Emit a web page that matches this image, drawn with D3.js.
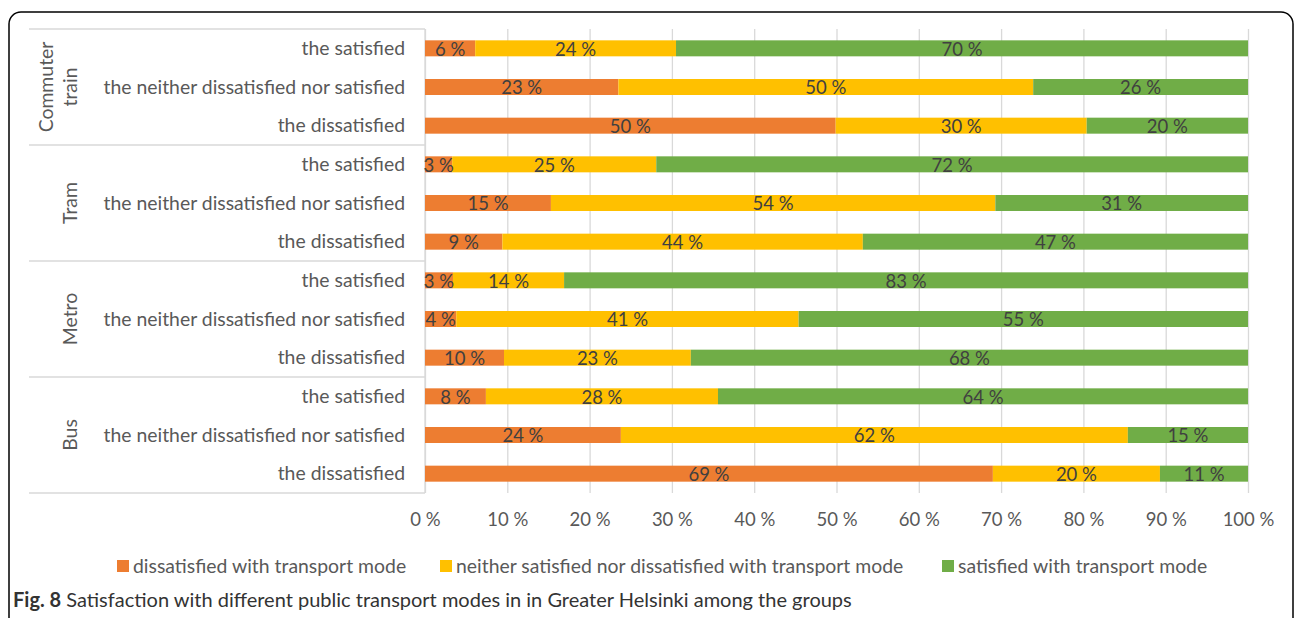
<!DOCTYPE html>
<html>
<head>
<meta charset="utf-8">
<script src="https://cdn.jsdelivr.net/npm/d3@7"></script>
<style>
  body { margin: 0; background: #fff; }
  text { font-family: Lato, "Open Sans", sans-serif; }
</style>
</head>
<body>
<svg id="chart" width="1295" height="618"></svg>
<script>
// groups top to bottom, each with three respondent rows
const groups = ["Commuter train", "Tram", "Metro", "Bus"];
const rowNames = ["the satisfied", "the neither dissatisfied nor satisfied", "the dissatisfied"];
const series = ["dissatisfied with transport mode", "neither satisfied nor dissatisfied with transport mode", "satisfied with transport mode"];

// shares (%), in row order: group x rowNames
const dissatisfied = [6.1, 23.5, 49.9, 3.3, 15.3, 9.4, 3.4, 3.8, 9.6, 7.4, 23.8, 69.0];
const neutral      = [24.4, 50.4, 30.5, 24.8, 54.0, 43.8, 13.5, 41.6, 22.7, 28.2, 61.6, 20.3];
const satisfied    = [69.5, 26.1, 19.6, 71.9, 30.7, 46.8, 83.1, 54.6, 67.7, 64.4, 14.6, 10.7];

// printed data labels
const dissatisfiedLabels = [6, 23, 50, 3, 15, 9, 3, 4, 10, 8, 24, 69];
const neutralLabels      = [24, 50, 30, 25, 54, 44, 14, 41, 23, 28, 62, 20];
const satisfiedLabels    = [70, 26, 20, 72, 31, 47, 83, 55, 68, 64, 15, 11];

const ticks = [0, 10, 20, 30, 40, 50, 60, 70, 80, 90, 100];

const colors = ["#ED7D31", "#FFC000", "#70AD47"];

const svg = d3.select("#chart");

// frame
svg.append("rect")
    .attr("x", 9).attr("y", 12)
    .attr("width", 1284).attr("height", 640)
    .attr("rx", 12)
    .attr("fill", "none")
    .attr("stroke", "#000")
    .attr("stroke-width", 1.5);

const plotLeft = 425, plotRight = 1248, plotTop = 29, plotBottom = 493;

const x = d3.scaleLinear().domain([0, 100]).range([plotLeft, plotRight]);

const rows = [];
groups.forEach((g, gi) => rowNames.forEach((r, ri) => rows.push({ group: g, name: r, i: gi * 3 + ri })));

const y = d3.scaleBand().domain(rows.map(d => d.i)).range([plotTop, plotBottom]);
const barH = 16;

// gridlines
svg.append("g")
    .attr("transform", `translate(0,${plotBottom})`)
    .call(d3.axisBottom(x).tickValues(ticks).tickSize(-(plotBottom - plotTop)).tickFormat(""))
    .call(g => g.select(".domain").remove())
    .call(g => g.selectAll("line").attr("stroke", "#d9d9d9").attr("stroke-width", 1.3));

// tick labels
svg.append("g")
    .attr("transform", `translate(0,${plotBottom})`)
    .call(d3.axisBottom(x).tickValues(ticks).tickSize(0).tickPadding(20).tickFormat(d => d + " %"))
    .call(g => g.select(".domain").remove())
    .call(g => g.selectAll("text")
        .attr("fill", "#595959")
        .style("font-size", "18.5px")
        .style("font-family", "Lato, sans-serif"));

// category axis: vertical line and group separators
svg.append("line")
    .attr("x1", plotLeft).attr("x2", plotLeft)
    .attr("y1", plotTop).attr("y2", plotBottom)
    .attr("stroke", "#d9d9d9").attr("stroke-width", 1.3);

const groupEdges = d3.range(groups.length + 1).map(k => k === groups.length ? plotBottom : y(k * 3));
svg.selectAll(".sep")
    .data(groupEdges)
    .enter()
    .append("line")
    .attr("class", "sep")
    .attr("x1", 29).attr("x2", plotLeft)
    .attr("y1", d => d).attr("y2", d => d)
    .attr("stroke", "#d9d9d9").attr("stroke-width", 1.3);

// stacked bars
const table = rows.map(r => ({
    i: r.i,
    values: [dissatisfied[r.i], neutral[r.i], satisfied[r.i]],
    labels: [dissatisfiedLabels[r.i], neutralLabels[r.i], satisfiedLabels[r.i]]
}));

const segs = [];
table.forEach(d => {
    let acc = 0;
    d.values.forEach((v, k) => {
        segs.push({ i: d.i, k: k, x0: acc, x1: Math.min(100, acc + v), label: d.labels[k] });
        acc += v;
    });
});

const bars = svg.append("g");
bars.selectAll("rect")
    .data(segs)
    .enter()
    .append("rect")
    .attr("x", d => x(d.x0))
    .attr("width", d => x(d.x1) - x(d.x0))
    .attr("y", d => y(d.i) + y.bandwidth() / 2 - barH / 2)
    .attr("height", barH)
    .attr("fill", d => colors[d.k]);

bars.selectAll("text")
    .data(segs)
    .enter()
    .append("text")
    .attr("x", d => x((d.x0 + d.x1) / 2))
    .attr("y", d => y(d.i) + y.bandwidth() / 2)
    .attr("dy", "0.4em")
    .attr("text-anchor", "middle")
    .attr("fill", "#404040")
    .style("font-size", "18.5px")
    .text(d => d.label + " %");

// row labels
svg.selectAll(".rowlab")
    .data(rows)
    .enter()
    .append("text")
    .attr("class", "rowlab")
    .attr("x", 405)
    .attr("y", d => y(d.i) + y.bandwidth() / 2)
    .attr("dy", "0.35em")
    .attr("text-anchor", "end")
    .attr("fill", "#595959")
    .style("font-size", "19.4px")
    .text(d => d.name);

// group labels, rotated
groups.forEach((g, gi) => {
    const cy = (groupEdges[gi] + groupEdges[gi + 1]) / 2;
    const lines = g === "Commuter train" ? ["Commuter", "train"] : [g];
    const t = svg.append("text")
        .attr("transform", `translate(${lines.length > 1 ? 46 : 70},${cy}) rotate(-90)`)
        .attr("text-anchor", "middle")
        .attr("fill", "#595959")
        .style("font-size", "19.4px");
    lines.forEach((l, li) => {
        t.append("tspan")
            .attr("x", 0)
            .attr("dy", li === 0 ? "0.35em" : "1.25em")
            .text(l);
    });
});

// legend
const legendX = [117, 440, 942];
const legend = svg.selectAll(".legend")
    .data(series)
    .enter()
    .append("g")
    .attr("class", "legend")
    .attr("transform", (d, i) => `translate(${legendX[i]},566)`);

legend.append("rect")
    .attr("y", -6)
    .attr("width", 12)
    .attr("height", 12)
    .attr("fill", (d, i) => colors[i]);

legend.append("text")
    .attr("x", 16)
    .attr("dy", "0.35em")
    .attr("fill", "#595959")
    .style("font-size", "19.4px")
    .text(d => d);

// caption
const cap = svg.append("text")
    .attr("x", 13)
    .attr("y", 607)
    .attr("fill", "#333")
    .style("font-size", "20px");
cap.append("tspan").style("font-weight", "bold").text("Fig. 8");
cap.append("tspan").text(" Satisfaction with different public transport modes in in Greater Helsinki among the groups");
</script>
</body>
</html>
